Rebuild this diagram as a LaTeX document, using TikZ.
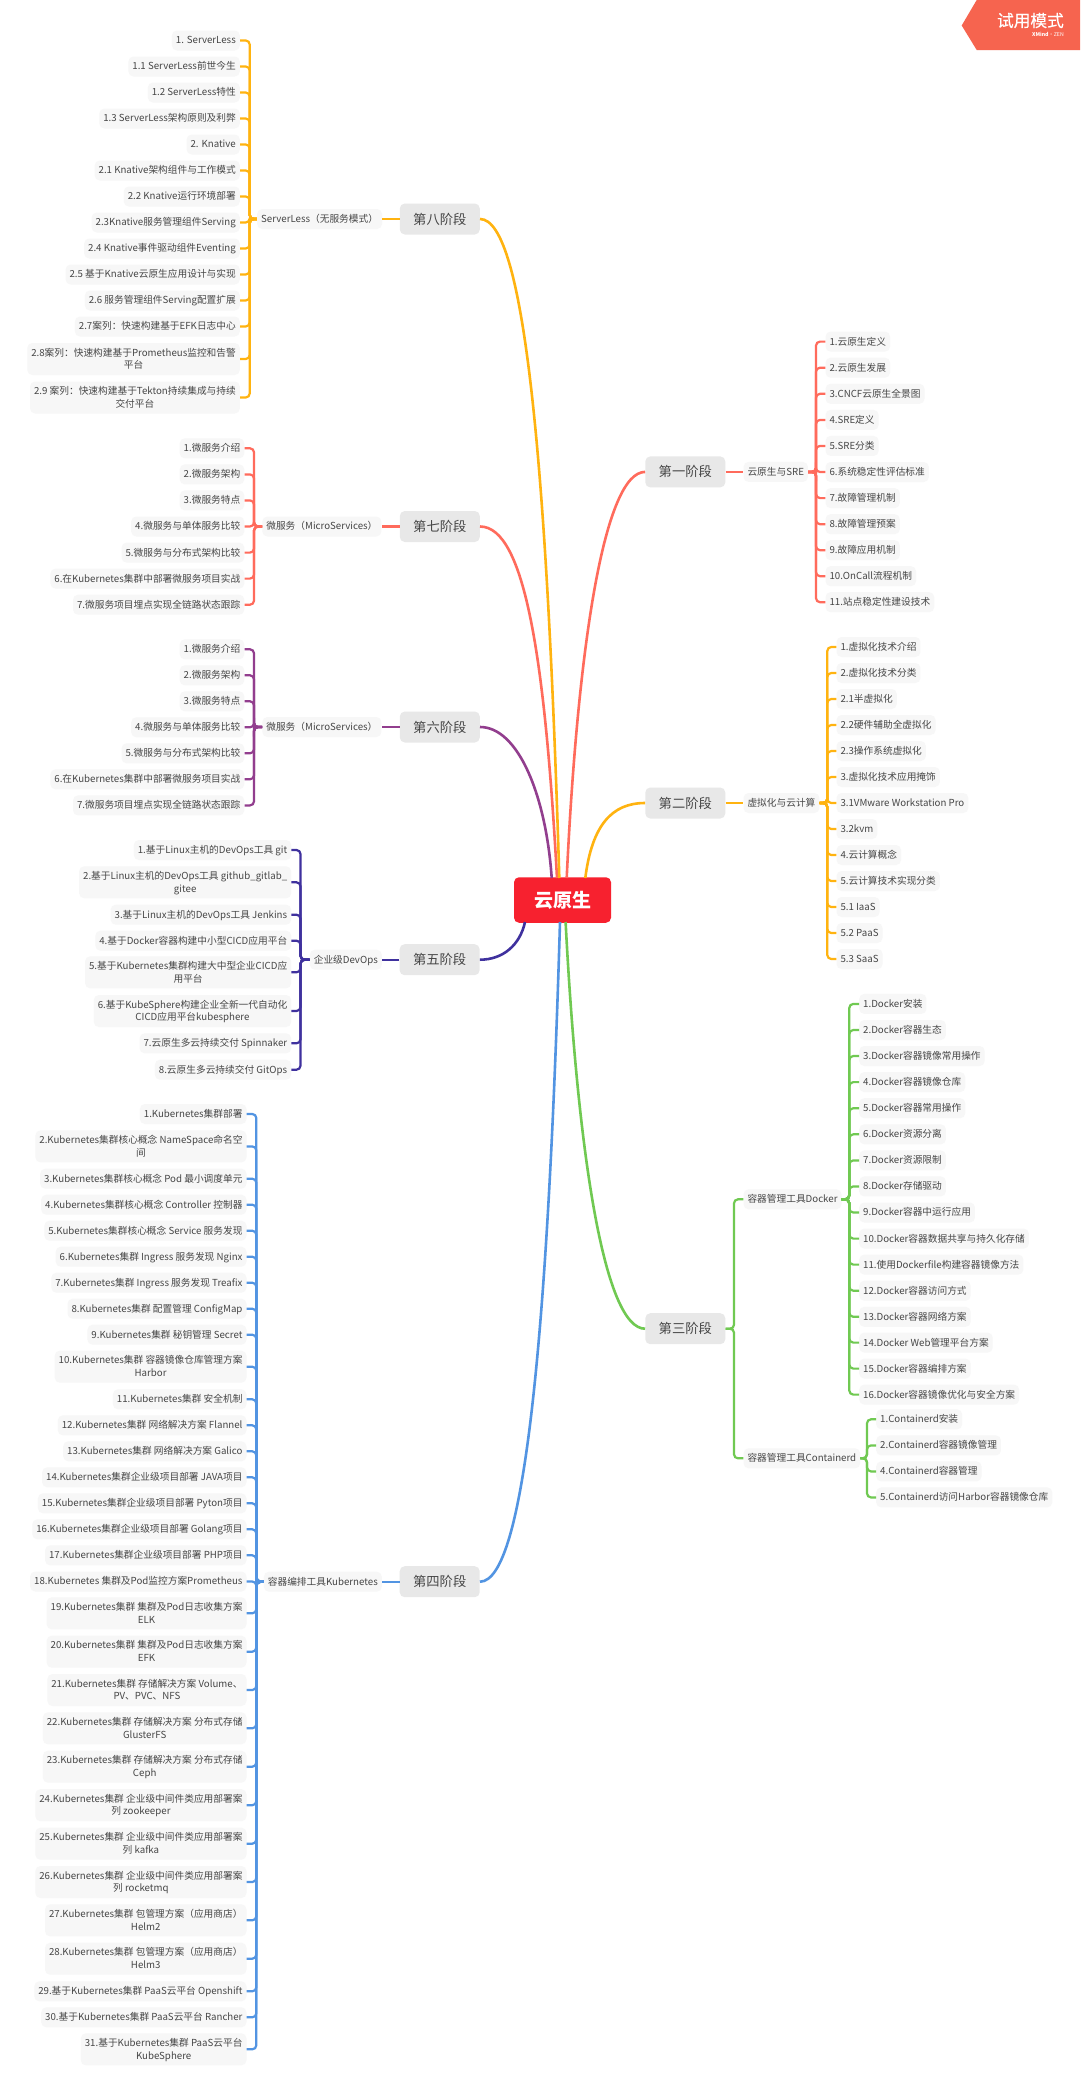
\documentclass[tikz,border=0pt]{standalone}
\usepackage{fontspec}
\setmainfont{Noto Sans CJK SC}
\newfontfamily\badgefont[FakeBold=0.25]{Noto Sans CJK SC}
\definecolor{cOrange}{HTML}{FFB310}
\definecolor{cRed}{HTML}{FF6B5C}
\definecolor{cPurple}{HTML}{923E8E}
\definecolor{cIndigo}{HTML}{3F319E}
\definecolor{cBlue}{HTML}{5294E2}
\definecolor{cGreen}{HTML}{70C952}
\definecolor{cRoot}{HTML}{F7212F}
\definecolor{cBadge}{HTML}{F6644F}
\definecolor{cLeaf}{HTML}{F7F7F7}
\definecolor{cStage}{HTML}{E8E8E8}
\definecolor{cText}{HTML}{464646}
\newcommand\ms{\rule[-2.9pt]{0pt}{12.6pt}}
\tikzset{
  leaf/.style={fill=cLeaf,text=cText,rounded corners=5pt,inner xsep=4pt,inner ysep=3.4pt,
    minimum height=20pt,align=center,font=\fontsize{9.7pt}{12.6pt}\selectfont},
  stage/.style={fill=cStage,text=cText,rounded corners=5pt,inner sep=0pt,minimum width=80pt,
    minimum height=31pt,font=\fontsize{13.3pt}{16pt}\selectfont},
  rootbox/.style={fill=cRoot,text=white,rounded corners=5pt,inner sep=0pt,minimum width=97pt,
    minimum height=45.5pt,font=\fontsize{19pt}{22pt}\selectfont\bfseries},
  conn/.style={line width=2.2pt,rounded corners=4pt},
  mainline/.style={line width=2.6pt}
}
% #1 parent, #2 colour, #3 spine x, #4 leaf edge x, #5 list y/text
\newcommand\lbranch[5]{%
  \coordinate (#1-sp) at (#3,0);
  \foreach \yy/\lt [count=\i] in {#5}{%
    \node[leaf,anchor=east] (#1-\i) at (#4,\yy) {\ms\lt\ms};
    \draw[conn,#2] (#1.west) -- (#1-sp |- #1.west) -- (#1-sp |- #1-\i.east) -- (#1-\i.east);
  }%
}
\newcommand\rbranch[5]{%
  \coordinate (#1-sp) at (#3,0);
  \foreach \yy/\lt [count=\i] in {#5}{%
    \node[leaf,anchor=west] (#1-\i) at (#4,\yy) {\ms\lt\ms};
    \draw[conn,#2] (#1.east) -- (#1-sp |- #1.east) -- (#1-sp |- #1-\i.west) -- (#1-\i.west);
  }%
}
\begin{document}
\begin{tikzpicture}[x=1pt,y=-1pt]
\useasboundingbox (0,0) rectangle (1080,2096);
\fill[white] (0,0) rectangle (1080,2096);
% badge
\fill[cBadge] (961.7,25.5) -- (976.7,0) -- (1080,0) -- (1080,50) -- (976.7,50) -- cycle;
\node[text=white,anchor=east,inner sep=0pt,font=\fontsize{16.7pt}{20pt}\badgefont] (badge) at (1064,20.5) {试用模式};
\node[text=white,anchor=east,inner sep=0pt,font=\fontsize{5.2pt}{6pt}\selectfont] (badgesub) at (1064,34.8) {\textbf{XMind}·ZEN};
% root and stages
\node[rootbox] (root) at (562.5,900) {云原生};
\node[stage] (st8) at (439.8,219) {第八阶段};
\node[stage] (st7) at (439.8,526.5) {第七阶段};
\node[stage] (st6) at (439.8,727) {第六阶段};
\node[stage] (st5) at (439.6,959.7) {第五阶段};
\node[stage] (st4) at (439.7,1581.7) {第四阶段};
\node[stage] (st1) at (685.3,471.9) {第一阶段};
\node[stage] (st2) at (685.3,803) {第二阶段};
\node[stage] (st3) at (685.3,1328.7) {第三阶段};
% attachment points on the root box
\coordinate (r8) at (559.3,878);
\coordinate (r7) at (557,878);
\coordinate (r6) at (551.7,878);
\coordinate (r1) at (566.7,878);
\coordinate (r2) at (585.3,878);
\coordinate (r5) at (525,922);
\coordinate (r4) at (560,922);
\coordinate (r3) at (565.6,922);
% main curves
\draw[mainline,cRed] (st7.east) .. controls (525,526.5) and (545,660) .. (r7);
\draw[mainline,cOrange] (st8.east) .. controls (525,219) and (547,469) .. (r8);
\draw[mainline,cPurple] (st6.east) .. controls (518,727) and (546,795) .. (r6);
\draw[mainline,cIndigo] (st5.east) .. controls (503,959.7) and (520,945) .. (r5);
\draw[mainline,cBlue] (st4.east) .. controls (525,1581.7) and (548,1330) .. (r4);
\draw[mainline,cRed] (st1.west) .. controls (605,471.9) and (578,640) .. (r1);
\draw[mainline,cOrange] (st2.west) .. controls (612,803) and (592,825) .. (r2);
\draw[mainline,cGreen] (st3.west) .. controls (605,1328.7) and (578,1160) .. (r3);
% second level
\node[leaf,anchor=east] (s8) at (382.2,219) {\ms ServerLess（无服务模式）\ms};
\node[leaf,anchor=east] (s7) at (381.6,526.5) {\ms 微服务（MicroServices）\ms};
\node[leaf,anchor=east] (s6) at (381.6,727) {\ms 微服务（MicroServices）\ms};
\node[leaf,anchor=east] (s5) at (382,959.7) {\ms 企业级DevOps\ms};
\node[leaf,anchor=east] (s4) at (382,1581.7) {\ms 容器编排工具Kubernetes\ms};
\node[leaf,anchor=west] (s1) at (743.3,471.9) {\ms 云原生与SRE\ms};
\node[leaf,anchor=west] (s2) at (743.3,803) {\ms 虚拟化与云计算\ms};
\node[leaf,anchor=west] (s3a) at (743.3,1199.3) {\ms 容器管理工具Docker\ms};
\node[leaf,anchor=west] (s3b) at (743.3,1458.3) {\ms 容器管理工具Containerd\ms};
\draw[conn,cOrange] (st8.west) -- (s8.east);
\draw[conn,cRed] (st7.west) -- (s7.east);
\draw[conn,cPurple] (st6.west) -- (s6.east);
\draw[conn,cIndigo] (st5.west) -- (s5.east);
\draw[conn,cBlue] (st4.west) -- (s4.east);
\draw[conn,cRed] (st1.east) -- (s1.west);
\draw[conn,cOrange] (st2.east) -- (s2.west);
\coordinate (st3sp) at (734,0);
\draw[conn,cGreen] (st3.east) -- (st3sp |- st3.east) -- (st3sp |- s3a.west) -- (s3a.west);
\draw[conn,cGreen] (st3.east) -- (st3sp |- st3.east) -- (st3sp |- s3b.west) -- (s3b.west);
% leaves
\lbranch{s8}{cOrange}{249.7}{240}{
40.5/1. ServerLess,
66.5/1.1 ServerLess前世今生,
92.5/1.2 ServerLess特性,
118.5/1.3 ServerLess架构原则及利弊,
144.5/2. Knative,
170.5/2.1 Knative架构组件与工作模式,
196.5/2.2 Knative运行环境部署,
222.5/2.3Knative服务管理组件Serving,
248.5/2.4 Knative事件驱动组件Eventing,
274.5/2.5 基于Knative云原生应用设计与实现,
300.5/2.6 服务管理组件Serving配置扩展,
326.5/2.7案列：快速构建基于EFK日志中心,
359/{2.8案列：快速构建基于Prometheus监控和告警\ms\\\ms 平台},
397.5/{2.9 案列：快速构建基于Tekton持续集成与持续\ms\\\ms 交付平台}}
\lbranch{s7}{cRed}{254}{244.5}{
448.3/1.微服务介绍,
474.4/2.微服务架构,
500.4/3.微服务特点,
526.5/4.微服务与单体服务比较,
552.6/5.微服务与分布式架构比较,
578.6/6.在Kubernetes集群中部署微服务项目实战,
604.7/7.微服务项目埋点实现全链路状态跟踪}
\lbranch{s6}{cPurple}{254}{244.5}{
649.3/1.微服务介绍,
675.3/2.微服务架构,
701.3/3.微服务特点,
727.3/4.微服务与单体服务比较,
753.3/5.微服务与分布式架构比较,
779.3/6.在Kubernetes集群中部署微服务项目实战,
805.4/7.微服务项目埋点实现全链路状态跟踪}
\lbranch{s5}{cIndigo}{300.5}{291.4}{
850/1.基于Linux主机的DevOps工具 git,
882.3/{2.基于Linux主机的DevOps工具 github\_gitlab\_\ms\\\ms gitee},
914.7/3.基于Linux主机的DevOps工具 Jenkins,
940.7/4.基于Docker容器构建中小型CICD应用平台,
972.3/{5.基于Kubernetes集群构建大中型企业CICD应\ms\\\ms 用平台},
1011/{6.基于KubeSphere构建企业全新一代自动化\ms\\\ms CICD应用平台kubesphere},
1043.3/7.云原生多云持续交付 Spinnaker,
1069.7/8.云原生多云持续交付 GitOps}
\lbranch{s4}{cBlue}{256.3}{246.7}{
1114/1.Kubernetes集群部署,
1146.4/{2.Kubernetes集群核心概念 NameSpace命名空\ms\\\ms 间},
1178.7/3.Kubernetes集群核心概念 Pod 最小调度单元,
1204.7/4.Kubernetes集群核心概念 Controller 控制器,
1230.7/5.Kubernetes集群核心概念 Service 服务发现,
1256.7/6.Kubernetes集群 Ingress 服务发现 Nginx,
1282.7/7.Kubernetes集群 Ingress 服务发现 Treafix,
1308.7/8.Kubernetes集群 配置管理 ConfigMap,
1334.7/9.Kubernetes集群 秘钥管理 Secret,
1366.7/{10.Kubernetes集群 容器镜像仓库管理方案\ms\\\ms Harbor},
1399.3/11.Kubernetes集群 安全机制,
1425.3/12.Kubernetes集群 网络解决方案 Flannel,
1451.3/13.Kubernetes集群 网络解决方案 Galico,
1477.3/14.Kubernetes集群企业级项目部署 JAVA项目,
1503.3/15.Kubernetes集群企业级项目部署 Pyton项目,
1529.3/16.Kubernetes集群企业级项目部署 Golang项目,
1555.3/17.Kubernetes集群企业级项目部署 PHP项目,
1581.5/18.Kubernetes 集群及Pod监控方案Prometheus,
1613.3/{19.Kubernetes集群 集群及Pod日志收集方案\ms\\\ms ELK},
1651.7/{20.Kubernetes集群 集群及Pod日志收集方案\ms\\\ms EFK},
1690/{21.Kubernetes集群 存储解决方案 Volume、\ms\\\ms PV、PVC、NFS},
1728.3/{22.Kubernetes集群 存储解决方案 分布式存储\ms\\\ms GlusterFS},
1766.7/{23.Kubernetes集群 存储解决方案 分布式存储\ms\\\ms Ceph},
1805.2/{24.Kubernetes集群 企业级中间件类应用部署案\ms\\\ms 列 zookeeper},
1843.7/{25.Kubernetes集群 企业级中间件类应用部署案\ms\\\ms 列 kafka},
1882/{26.Kubernetes集群 企业级中间件类应用部署案\ms\\\ms 列 rocketmq},
1920.3/{27.Kubernetes集群 包管理方案（应用商店）\ms\\\ms Helm2},
1958.7/{28.Kubernetes集群 包管理方案（应用商店）\ms\\\ms Helm3},
1991.3/29.基于Kubernetes集群 PaaS云平台 Openshift,
2017.3/30.基于Kubernetes集群 PaaS云平台 Rancher,
2049.3/{31.基于Kubernetes集群 PaaS云平台\ms\\\ms KubeSphere}}
\rbranch{s1}{cRed}{816}{825.3}{
341.6/1.云原生定义,
367.7/2.云原生发展,
393.8/3.CNCF云原生全景图,
419.9/4.SRE定义,
445.9/5.SRE分类,
472/6.系统稳定性评估标准,
498.1/7.故障管理机制,
524.2/8.故障管理预案,
550.2/9.故障应用机制,
576.2/10.OnCall流程机制,
602.2/11.站点稳定性建设技术}
\rbranch{s2}{cOrange}{827.3}{836.3}{
647/1.虚拟化技术介绍,
673/2.虚拟化技术分类,
699/2.1半虚拟化,
725/2.2硬件辅助全虚拟化,
751/2.3操作系统虚拟化,
777/3.虚拟化技术应用掩饰,
803/3.1VMware Workstation Pro,
829/3.2kvm,
855/4.云计算概念,
881/5.云计算技术实现分类,
907/5.1 IaaS,
933/5.2 PaaS,
959/5.3 SaaS}
\rbranch{s3a}{cGreen}{849.3}{859}{
1003.9/1.Docker安装,
1030/2.Docker容器生态,
1056/3.Docker容器镜像常用操作,
1082.1/4.Docker容器镜像仓库,
1108.2/5.Docker容器常用操作,
1134.3/6.Docker资源分离,
1160.4/7.Docker资源限制,
1186.4/8.Docker存储驱动,
1212.5/9.Docker容器中运行应用,
1238.6/10.Docker容器数据共享与持久化存储,
1264.6/11.使用Dockerfile构建容器镜像方法,
1290.7/12.Docker容器访问方式,
1316.8/13.Docker容器网络方案,
1342.6/14.Docker Web管理平台方案,
1368.6/15.Docker容器编排方案,
1394.6/16.Docker容器镜像优化与安全方案}
\rbranch{s3b}{cGreen}{867}{876}{
1419.3/1.Containerd安装,
1445.4/2.Containerd容器镜像管理,
1471.4/4.Containerd容器管理,
1497.4/5.Containerd访问Harbor容器镜像仓库}
\end{tikzpicture}
\end{document}
